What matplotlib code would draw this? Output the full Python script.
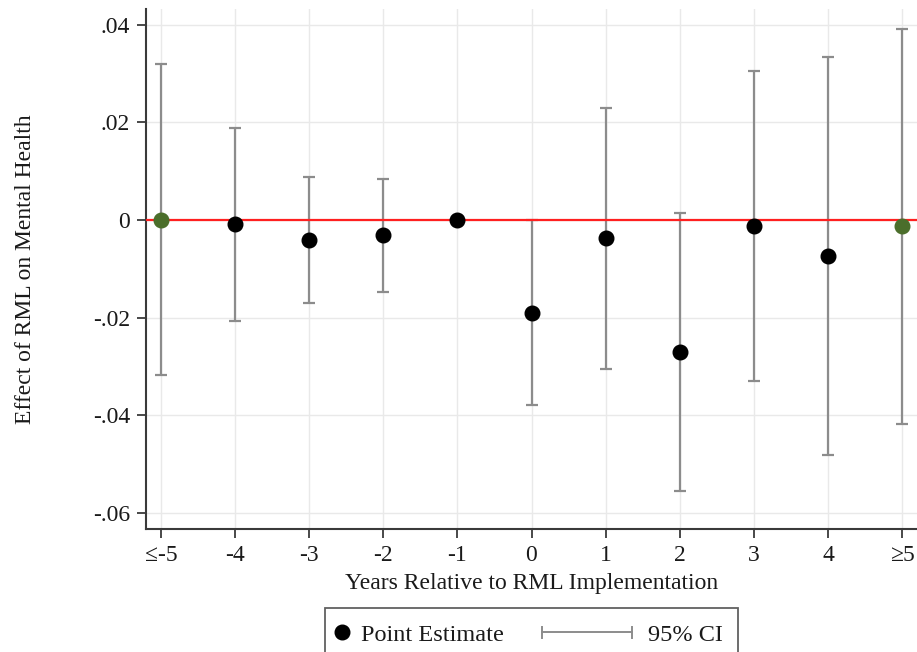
import matplotlib
matplotlib.use("Agg")
import matplotlib.pyplot as plt
from matplotlib.lines import Line2D
from matplotlib.legend_handler import HandlerBase
import numpy as np

plt.rcParams['font.family'] = ['Liberation Serif', 'DejaVu Serif']

# ---- data ----
tick_labels = ['≤-5', '-4', '-3', '-2', '-1', '0', '1', '2', '3', '4', '≥5']
event_time = [-5, -4, -3, -2, -1, 0, 1, 2, 3, 4, 5]
estimate = [0.0, -0.0008, -0.0041, -0.0031, 0.0, -0.0190, -0.0037, -0.0270, -0.0012, -0.0073, -0.0013]
ci_low = [-0.0317, -0.0207, -0.0170, -0.0147, np.nan, -0.0380, -0.0305, -0.0555, -0.0330, -0.0481, -0.0418]
ci_high = [0.0319, 0.0188, 0.0088, 0.0084, np.nan, 0.0000, 0.0229, 0.0014, 0.0305, 0.0334, 0.0392]
binned = [True, False, False, False, False, False, False, False, False, False, True]
y_ticks = [0.04, 0.02, 0.0, -0.02, -0.04, -0.06]
y_tick_labels = ['.04', '.02', '0', '-.02', '-.04', '-.06']

W, H = 917, 652
fig = plt.figure(figsize=(W / 100, H / 100), dpi=100)
ax = fig.add_axes([146 / W, 1 - 529 / H, 1 - 146 / W, (529 - 9) / H])

ci_color = '#8c8c8c'
green = '#4b6e2b'

x = np.array(event_time, dtype=float)
est = np.array(estimate)
lo = np.array(ci_low)
hi = np.array(ci_high)
m = ~np.isnan(lo)
ax.errorbar(x[m], est[m], yerr=[est[m] - lo[m], hi[m] - est[m]], fmt='none',
            ecolor=ci_color, elinewidth=1.6, capsize=4.5, capthick=1.6, zorder=3)
ax.axhline(0, color='#ff2020', lw=1.6, zorder=4)
b = np.array(binned)
ax.plot(x[~b], est[~b], 'o', color='black', markersize=10.5, zorder=5)
ax.plot(x[b], est[b], 'o', color=green, markersize=10.5, zorder=5)

ax.set_xlim(-5.2, 5.2)
ax.set_ylim(-0.0633, 0.0432)
ax.set_xticks(event_time)
ax.set_xticklabels(tick_labels)
ax.set_yticks(y_ticks)
ax.set_yticklabels(y_tick_labels)
ax.grid(True, color='#e9e9e9', lw=1.0, zorder=0)
ax.set_axisbelow(True)
for s in ['top', 'right']:
    ax.spines[s].set_visible(False)
for s in ['left', 'bottom']:
    ax.spines[s].set_color('#3a3a3a')
    ax.spines[s].set_linewidth(1.5)
ax.tick_params(direction='out', length=6.5, width=1.3, color='#3a3a3a',
               labelsize=17, labelcolor='#1a1a1a', pad=5)
ax.set_xlabel('Years Relative to RML Implementation', fontsize=17, color='#1a1a1a', labelpad=5)
ax.set_ylabel('Effect of RML on Mental Health', fontsize=17, color='#1a1a1a', labelpad=41)


class PointHandler(HandlerBase):
    def create_artists(self, legend, orig_handle, xdescent, ydescent, width, height, fontsize, trans):
        y = height / 2 - ydescent
        xm = -xdescent + 1.4
        return [Line2D([xm], [y], marker='o', color='black', linestyle='none',
                       markersize=10.5, transform=trans)]


class CIHandler(HandlerBase):
    def create_artists(self, legend, orig_handle, xdescent, ydescent, width, height, fontsize, trans):
        y = height / 2 - ydescent
        x1 = -xdescent + 3.6
        x0 = x1 - 65
        line = Line2D([x0, x1], [y, y], color=ci_color, lw=1.4, transform=trans)
        c0 = Line2D([x0, x0], [y - 4, y + 4], color=ci_color, lw=1.4, transform=trans)
        c1 = Line2D([x1, x1], [y - 4, y + 4], color=ci_color, lw=1.4, transform=trans)
        return [line, c0, c1]


pt_handle = Line2D([], [], marker='o', color='black', linestyle='none')
ci_handle = Line2D([], [], color=ci_color)
leg = fig.legend([pt_handle, ci_handle], ['Point Estimate', '95% CI'],
                 handler_map={pt_handle: PointHandler(), ci_handle: CIHandler()},
                 loc='upper center', bbox_to_anchor=(531.5 / W, 1 - 608 / H),
                 bbox_transform=fig.transFigure, ncol=2, fontsize=17.5,
                 frameon=True, fancybox=False, edgecolor='#3a3a3a',
                 handlelength=0.49, handletextpad=0.34, columnspacing=5.1,
                 borderpad=0.65, borderaxespad=0)
leg.get_frame().set_linewidth(1.3)
for t in leg.get_texts():
    t.set_color('#1a1a1a')

fig.savefig('out.png', dpi=100)
